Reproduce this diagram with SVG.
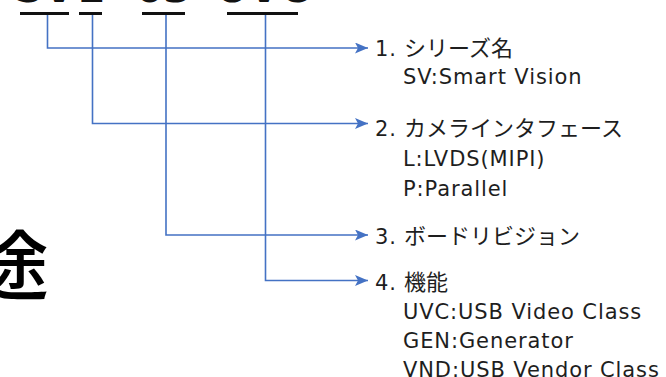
<svg xmlns="http://www.w3.org/2000/svg" width="666" height="377" viewBox="0 0 666 377">
<style>
.t{font-family:"DejaVu Sans","Noto Sans CJK JP",sans-serif;font-size:21px;letter-spacing:0.9px;fill:#1e1e1e}
.jp{font-family:"Noto Sans CJK JP",sans-serif;font-size:22px;letter-spacing:0}
.big{font-family:"DejaVu Sans",sans-serif;font-weight:bold;font-size:40px;fill:#111}
.conn{fill:none;stroke:#4472C4;stroke-width:1.6}
</style>
<defs>
<marker id="arr" markerUnits="userSpaceOnUse" markerWidth="14" markerHeight="12" refX="13" refY="5.5" orient="auto">
<path d="M0,0 L13,5.5 L0,11 L3,5.5 Z" fill="#4472C4"/>
</marker>
</defs>
<rect width="666" height="377" fill="#ffffff"/>
<g id="title">
<text class="big" x="44.5" y="2" text-anchor="middle">SV</text>
<text class="big" x="90.5" y="2" text-anchor="middle">L</text>
<text class="big" x="163.5" y="2" text-anchor="middle">03</text>
<text class="big" x="262.5" y="2" text-anchor="middle">UVC</text>
<rect x="20" y="12" width="49" height="3" fill="#111"/>
<rect x="79" y="12" width="23" height="3" fill="#111"/>
<rect x="142" y="12" width="43" height="3" fill="#111"/>
<rect x="227" y="12" width="71" height="3" fill="#111"/>
</g>
<g id="side">
<text x="49" y="294" text-anchor="end" style="font-family:'Noto Sans CJK JP',sans-serif;font-weight:500;font-size:76px;fill:#000">途</text>
</g>
<g id="connectors">
<path class="conn" d="M47.5,15 V48 H368" marker-end="url(#arr)"/>
<path class="conn" d="M92.5,15 V123.5 H368" marker-end="url(#arr)"/>
<path class="conn" d="M166,15 V235 H368" marker-end="url(#arr)"/>
<path class="conn" d="M265.5,15 V280.5 H368" marker-end="url(#arr)"/>
</g>
<g id="item1">
<text class="t" x="375" y="55.5">1.<tspan class="jp" x="404">シリーズ名</tspan></text>
<text class="t" x="403" y="84">SV:Smart Vision</text>
</g>
<g id="item2">
<text class="t" x="375" y="136">2.<tspan class="jp" x="404">カメラインタフェース</tspan></text>
<text class="t" x="403" y="166">L:LVDS(MIPI)</text>
<text class="t" x="403" y="196">P:Parallel</text>
</g>
<g id="item3">
<text class="t" x="375" y="244">3.<tspan class="jp" x="404">ボードリビジョン</tspan></text>
</g>
<g id="item4">
<text class="t" x="375" y="290">4.<tspan class="jp" x="404">機能</tspan></text>
<text class="t" x="403" y="319">UVC:USB Video Class</text>
<text class="t" x="403" y="348">GEN:Generator</text>
<text class="t" x="403" y="377">VND:USB Vendor Class</text>
</g>
</svg>
